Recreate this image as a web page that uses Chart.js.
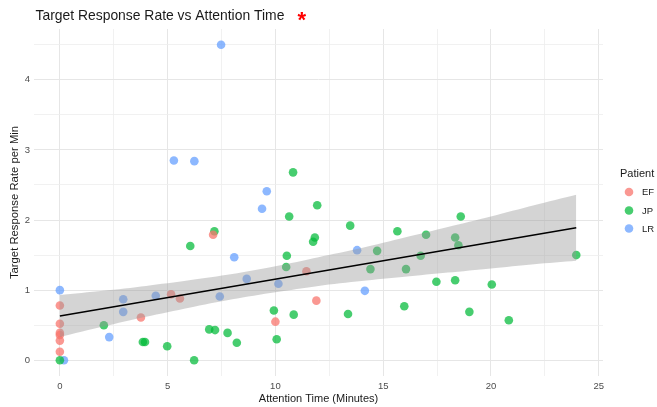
<!DOCTYPE html>
<html>
<head>
<meta charset="utf-8">
<script src="https://cdn.jsdelivr.net/npm/chart.js@4.4.1/dist/chart.umd.min.js"></script>
<style>
  html, body { margin: 0; padding: 0; background: #ffffff; }
  #wrap { width: 657px; height: 407px; }
</style>
</head>
<body>
<div id="wrap"><canvas id="c" width="657" height="407"></canvas></div>
<script>
// ---------- data ----------
const chartTitle = "Target Response Rate vs Attention Time";
const xTitle = "Attention Time (Minutes)";
const yTitle = "Target Response Rate per Min";
const legendTitle = "Patient";
const patients = ["EF", "JP", "LR"];

const efX = [0, 0, 0, 0, 0, 0, 3.76, 5.16, 5.57, 7.11, 10.0, 11.44, 11.9];
const efY = [0.78, 0.52, 0.39, 0.36, 0.28, 0.12, 0.61, 0.94, 0.88, 1.79, 0.55, 1.27, 0.85];

const jpX = [0, 2.04, 3.85, 3.95, 4.98, 6.05, 6.23, 6.93, 7.2, 7.17, 7.78, 8.21, 9.93, 10.06,
             10.5, 10.53, 10.64, 10.82, 10.85, 11.75, 11.83, 11.94, 13.37, 13.47, 14.41, 14.72,
             15.66, 15.98, 16.06, 16.74, 16.99, 17.47, 18.34, 18.34, 18.49, 18.6, 19.0, 20.04,
             20.83, 23.96];
const jpY = [0, 0.5, 0.26, 0.26, 0.2, 1.63, 0, 0.44, 0.43, 1.84, 0.39, 0.25, 0.71, 0.3,
             1.33, 1.49, 2.05, 2.68, 0.65, 1.69, 1.75, 2.21, 0.66, 1.92, 1.30, 1.56,
             1.84, 0.77, 1.30, 1.49, 1.79, 1.12, 1.14, 1.75, 1.64, 2.05, 0.69, 1.08,
             0.57, 1.5];

const lrX = [0, 0.19, 2.29, 2.94, 2.94, 4.45, 5.29, 6.24, 7.42, 7.48, 8.09, 8.67, 9.38, 9.6, 10.14, 13.79, 14.15];
const lrY = [1.0, 0, 0.33, 0.87, 0.69, 0.92, 2.85, 2.84, 0.91, 4.5, 1.47, 1.16, 2.16, 2.41, 1.09, 1.57, 0.99];

const fitX = [0, 23.96];
const fitY = [0.63, 1.89];

const bandX     = [0, 2, 4, 6, 8, 10, 12, 14, 16, 18, 20, 22, 23.96];
const bandUpper = [0.93, 0.99, 1.06, 1.14, 1.23, 1.34, 1.47, 1.60, 1.75, 1.90, 2.05, 2.21, 2.36];
const bandLower = [0.33, 0.48, 0.62, 0.75, 0.87, 0.97, 1.06, 1.13, 1.19, 1.25, 1.31, 1.37, 1.42];

const xTickVals = [0, 2.5, 5, 7.5, 10, 12.5, 15, 17.5, 20, 22.5, 25];
const yTickVals = [0, 0.5, 1, 1.5, 2, 2.5, 3, 3.5, 4, 4.5];
const xLimits = [-1.2, 25.2];
const yLimits = [-0.225, 4.725];

// ---------- styling ----------
const colors = ["rgba(248,118,109,0.75)", "rgba(0,186,56,0.72)", "rgba(97,156,255,0.72)"];
const FONT = "'Liberation Sans', Arial, sans-serif";

function pts(xs, ys) { return xs.map((x, i) => ({ x: x, y: ys[i] })); }

const isMajorX = v => Math.abs(v % 5) < 1e-9;
const isMajorY = v => Math.abs(v % 1) < 1e-9;

const overlay = {
  id: 'overlay',
  afterDraw(chart) {
    const ctx = chart.ctx;
    ctx.save();
    // title
    ctx.fillStyle = '#1a1a1a';
    ctx.font = `13.9px ${FONT}`;
    ctx.textAlign = 'left';
    ctx.textBaseline = 'alphabetic';
    ctx.fillText(chartTitle, 35.5, 19.5);
    ctx.fillStyle = '#ff0000';
    ctx.font = `bold 22px ${FONT}`;
    ctx.fillText('*', 297.5, 26.5);
    // legend
    ctx.fillStyle = '#1a1a1a';
    ctx.font = `11px ${FONT}`;
    ctx.fillText(legendTitle, 620, 177);
    const ys = [192, 210.5, 228.5];
    patients.forEach((p, i) => {
      ctx.beginPath();
      ctx.arc(629, ys[i], 4.3, 0, Math.PI * 2);
      ctx.fillStyle = colors[i];
      ctx.fill();
      ctx.fillStyle = '#1a1a1a';
      ctx.font = `9.5px ${FONT}`;
      ctx.textBaseline = 'middle';
      ctx.fillText(p, 642, ys[i] + 0.5);
      ctx.textBaseline = 'alphabetic';
    });
    ctx.restore();
  }
};

new Chart(document.getElementById('c'), {
  type: 'scatter',
  data: {
    datasets: [
      { type: 'line', label: 'fit', data: pts(fitX, fitY), borderColor: '#000000', borderWidth: 1.4,
        pointRadius: 0, fill: false, tension: 0 },
      { type: 'line', label: 'upper', data: pts(bandX, bandUpper), borderWidth: 0, borderColor: 'rgba(0,0,0,0)',
        pointRadius: 0, fill: { target: 2 }, backgroundColor: 'rgba(153,153,153,0.42)', tension: 0.3 },
      { type: 'line', label: 'lower', data: pts(bandX, bandLower), borderWidth: 0, borderColor: 'rgba(0,0,0,0)',
        pointRadius: 0, fill: false, tension: 0.3 },
      { label: patients[0], data: pts(efX, efY), backgroundColor: colors[0], borderWidth: 0, pointRadius: 4.3, pointHoverRadius: 4.3 },
      { label: patients[1], data: pts(jpX, jpY), backgroundColor: colors[1], borderWidth: 0, pointRadius: 4.3, pointHoverRadius: 4.3 },
      { label: patients[2], data: pts(lrX, lrY), backgroundColor: colors[2], borderWidth: 0, pointRadius: 4.3, pointHoverRadius: 4.3 }
    ]
  },
  options: {
    responsive: false,
    animation: false,
    events: [],
    layout: { padding: { top: 29, right: 54, bottom: 0, left: 0 } },
    plugins: { legend: { display: false }, title: { display: false }, tooltip: { enabled: false } },
    scales: {
      x: {
        type: 'linear', min: xLimits[0], max: xLimits[1],
        afterBuildTicks: s => { s.ticks = xTickVals.map(v => ({ value: v })); },
        afterFit: s => { s.height = 31; },
        border: { display: false },
        grid: {
          drawTicks: false,
          color: c => isMajorX(c.tick.value) ? '#e6e6e6' : '#eeeeee',
          lineWidth: c => isMajorX(c.tick.value) ? 1 : 0.8
        },
        ticks: {
          autoSkip: false, maxRotation: 0, padding: 5, color: '#4d4d4d',
          font: { family: FONT, size: 9.5 },
          callback: v => isMajorX(v) ? String(v) : ''
        },
        title: { display: true, text: xTitle, color: '#1a1a1a', font: { family: FONT, size: 11 },
                 padding: { top: 0, bottom: 1.6 } }
      },
      y: {
        type: 'linear', min: yLimits[0], max: yLimits[1],
        afterBuildTicks: s => { s.ticks = yTickVals.map(v => ({ value: v })); },
        afterFit: s => { s.width = 34; },
        border: { display: false },
        grid: {
          drawTicks: false,
          color: c => isMajorY(c.tick.value) ? '#e6e6e6' : '#eeeeee',
          lineWidth: c => isMajorY(c.tick.value) ? 1 : 0.8
        },
        ticks: {
          autoSkip: false, padding: 4, color: '#4d4d4d',
          font: { family: FONT, size: 9.5 },
          callback: v => isMajorY(v) ? String(v) : ''
        },
        title: { display: true, text: yTitle, color: '#1a1a1a', font: { family: FONT, size: 11.3 },
                 padding: { top: 8.3, bottom: 0 } }
      }
    }
  },
  plugins: [overlay]
});
</script>
</body>
</html>
